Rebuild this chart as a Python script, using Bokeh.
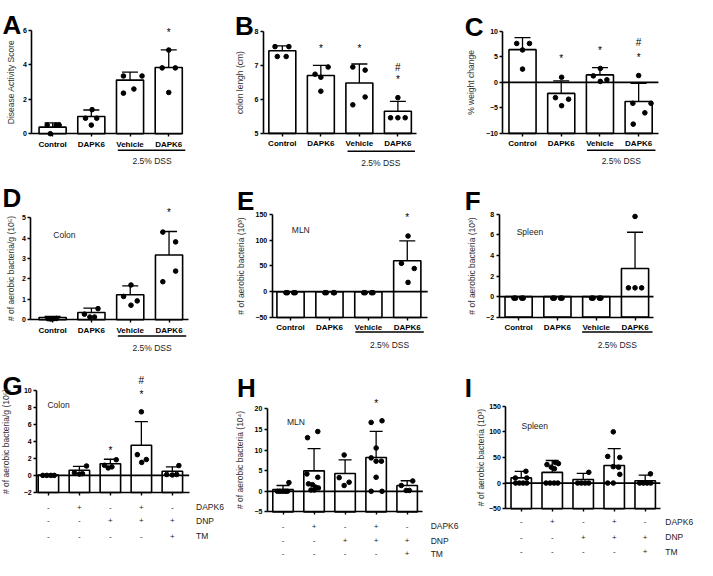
from bokeh.plotting import figure
from bokeh.models import ColumnDataSource, LinearAxis, FixedTicker, Range1d, Whisker, TeeHead
from bokeh.layouts import column, row
from bokeh.core.properties import value
from bokeh.embed import file_html
from bokeh.resources import INLINE

FONT = "Liberation Sans"

# ---------------- data ----------------
DSS_LABEL = "2.5% DSS"
TREAT_ROWS = ["DAPK6", "DNP", "TM"]
TREAT_SIGNS = [["-", "+", "-", "+", "-"],
               ["-", "-", "+", "+", "+"],
               ["-", "-", "-", "-", "+"]]

A_groups = ["Control", "DAPK6", "Vehicle", "DAPK6"]
A_yticks = [0, 2, 4, 6]
A_mean = [0.38, 1.0, 3.12, 3.85]
A_sd = [0.25, 0.38, 0.47, 1.03]
A_points = [[0.5, 0.5, 0.5, 0.0], [1.4, 0.9, 0.9, 0.5], [3.36, 3.36, 2.6, 2.36], [4.87, 3.83, 3.83, 2.4]]
A_jitter = [[-0.14, 0.09, 0.17, -0.06], [0.02, -0.15, 0.14, 0.0], [-0.17, 0.31, 0.1, -0.17], [0.0, -0.17, 0.17, 0.0]]
A_marks = [(3, "*", 5.9)]
A_ylabel = "Disease Activity Score"

B_groups = ["Control", "DAPK6", "Vehicle", "DAPK6"]
B_yticks = [5, 6, 7, 8]
B_mean = [7.43, 6.70, 6.48, 5.65]
B_sd = [0.14, 0.30, 0.56, 0.29]
B_points = [[7.55, 7.55, 7.26, 7.26], [6.74, 6.95, 6.65, 6.24], [6.95, 6.86, 6.07, 5.84], [6.05, 5.46, 5.46, 5.46]]
B_jitter = [[-0.19, 0.17, -0.13, 0.1], [-0.15, 0.19, 0.0, 0.0], [-0.17, 0.15, 0.15, -0.17], [0.0, -0.19, 0.0, 0.19]]
B_marks = [(1, "*", 7.5), (2, "*", 7.5), (3, "#", 6.93), (3, "*", 6.57)]
B_ylabel = "colon lengh (cm)"

C_groups = ["Control", "DAPK6", "Vehicle", "DAPK6"]
C_yticks = [-10, -5, 0, 5, 10]
C_mean = [6.41, -2.16, 1.46, -3.75]
C_sd = [2.35, 2.45, 1.43, 3.57]
C_points = [[7.62, 7.62, 6.35, 2.6], [1.0, -3.0, -3.3, -4.57], [2.73, 1.27, 0.5, 0.19], [1.33, -4.1, -4.1, -5.97, -8.19]]
C_jitter = [[-0.15, 0.18, 0.0, 0.0], [0.01, -0.15, 0.19, 0.01], [0.01, -0.17, 0.18, 0.01], [0.0, -0.15, 0.32, 0.16, -0.14]]
C_marks = [(1, "*", 4.6), (2, "*", 6.2), (3, "#", 7.8), (3, "*", 4.95)]
C_ylabel = "% weight change"

D_groups = ["Control", "DAPK6", "Vehicle", "DAPK6"]
D_yticks = [0, 1, 2, 3, 4, 5]
D_mean = [0.11, 0.35, 1.22, 3.17]
D_sd = [0.05, 0.22, 0.44, 1.15]
D_points = [[0.05, 0.03, 0.05, 0.06], [0.54, 0.27, 0.13, 0.13], [1.70, 1.14, 0.92, 0.71], [4.29, 3.81, 2.38, 1.86]]
D_jitter = [[-0.12, -0.05, 0.03, 0.1], [0.17, -0.18, -0.04, 0.08], [0.02, -0.17, 0.18, 0.02], [-0.16, 0.17, 0.17, -0.16]]
D_marks = [(3, "*", 5.24)]
D_ylabel = "# of aerobic bacteria/g (10\u2075)"
D_site = "Colon"

E_groups = ["Control", "DAPK6", "Vehicle", "DAPK6"]
E_yticks = [-50, 0, 50, 100, 150]
E_mean = [0, 0, 0, 60]
E_sd = [0, 0, 0, 38.5]
E_points = [[-2, -2, -2, -2], [-2, -2, -2, -2], [-2, -2, -2, -2], [108, 55, 45, 18]]
E_jitter = [[-0.12, -0.08, 0.08, 0.12], [-0.12, -0.08, 0.1, 0.13], [-0.12, -0.08, 0.08, 0.12], [0.02, -0.15, 0.18, 0.02]]
E_marks = [(3, "*", 144)]
E_ylabel = "# of aerobic bacteria (10\u00b3)"
E_site = "MLN"

F_groups = ["Control", "DAPK6", "Vehicle", "DAPK6"]
F_yticks = [-2, 0, 2, 4, 6, 8]
F_mean = [0, 0, 0, 2.74]
F_sd = [0, 0, 0, 3.52]
F_points = [[-0.15, -0.15, -0.15, -0.15], [-0.15, -0.15, -0.15, -0.15], [-0.15, -0.15, -0.15, -0.15], [7.8, 0.85, 0.85, 0.85]]
F_jitter = [[-0.12, -0.08, 0.08, 0.12], [-0.12, -0.08, 0.08, 0.12], [-0.12, -0.08, 0.08, 0.12], [0.0, -0.17, 0.0, 0.17]]
F_marks = []
F_ylabel = "# of aerobic bacteria (10\u00b3)"
F_site = "Spleen"

G_yticks = [-2, 0, 2, 4, 6, 8, 10]
G_mean = [0.05, 0.61, 1.37, 3.54, 0.49]
G_sd = [0.05, 0.45, 0.52, 2.77, 0.51]
G_points = [[0, 0, 0, 0], [1.1, 0.3, 0.15, 0.2], [1.83, 1.18, 0.87, 1.0], [7.45, 2.43, 1.86, 1.52], [1.15, 0.1, 0.05, 0.1]]
G_jitter = [[-0.18, -0.05, 0.08, 0.19], [0.23, -0.16, 0.0, 0.1], [0.19, -0.19, -0.07, 0.05], [0.0, -0.13, 0.16, 0.01], [0.21, -0.18, 0.0, 0.14]]
G_marks = [(2, "*", 2.97), (3, "*", 9.5), (3, "#", 11.1)]
G_ylabel = "# of aerobic bacteria/g (10\u2075)"
G_site = "Colon"

H_yticks = [-5, 0, 5, 10, 15, 20]
H_mean = [0.4, 4.95, 4.32, 8.18, 1.4]
H_sd = [1.0, 5.4, 3.3, 6.35, 1.15]
H_points = [[2.1, 0, 0, 0, 0, 0],
            [13.0, 14.5, 4.2, 3.4, 1.8, 1.6, 1.0, 0.8, 0.3, 0.3],
            [8.8, 3.3, 2.2, 1.4],
            [16.7, 17.1, 10.5, 8.1, 7.3, 7.3, 3.4, 0, 0],
            [1.4, 2.5, 0.2, 0.2]]
H_jitter = [[0.19, -0.18, -0.1, -0.01, 0.07, 0.14],
            [-0.21, 0.12, -0.23, 0.12, -0.18, -0.05, 0.05, 0.14, -0.1, 0.01],
            [-0.03, -0.19, 0.13, -0.03],
            [-0.16, 0.19, 0.0, -0.16, 0.0, 0.17, 0.0, -0.16, 0.19],
            [-0.19, 0.18, -0.03, 0.07]]
H_marks = [(3, "*", 21.4)]
H_ylabel = "# of aerobic bacteria (10\u2074)"
H_site = "MLN"

I_yticks = [-50, 0, 50, 100, 150]
I_mean = [10.1, 20.9, 7.0, 34.2, 4.4]
I_sd = [12.6, 23.1, 12.0, 33.2, 11.0]
I_points = [[23, 10, 10, 0, 0, 0, 0],
            [40, 36, 38, 31, 28, 0, 0, 0, 0],
            [21, 0, 0, 0, 0],
            [100, 52, 50, 32, 31, 17, 0, 0],
            [18, 0, 0, 0, 0]]
I_jitter = [[0.15, -0.19, 0.18, -0.18, -0.06, 0.06, 0.18],
            [0.1, -0.17, 0.2, -0.03, 0.07, -0.2, -0.07, 0.06, 0.18],
            [0.18, -0.18, -0.06, 0.06, 0.18],
            [-0.03, -0.21, 0.18, -0.03, 0.14, 0.18, -0.21, -0.03],
            [0.17, -0.18, -0.06, 0.06, 0.18]]
I_marks = []
I_ylabel = "# of aerobic bacteria (10\u00b3)"
I_site = "Spleen"

# ---------------- layout (reference pixel geometry) ----------------
KX = 697 / 713
KY = 560 / 576
ROW_EDGES = [[0, 230, 460, 713], [0, 230, 460, 713], [0, 236, 473, 713]]
ROW_Y = [0, 173, 372, 576]

GEOM = {
    "A": dict(cell=(0, 0), yax=32, xend=185, c0=53.3, step=39.6, ycal=(6, 31, 0, 137), letter=(2, 25),
              bw=0.7, cap=16, lso=4, dss=(120, 189, 154, 155, 165)),
    "B": dict(cell=(1, 0), yax=269, xend=426, c0=288.3, step=39.4, ycal=(8, 31.7, 5, 136.7), letter=(240, 26),
              bw=0.7, cap=16, lso=7, dss=(355, 424, 155, 389, 167)),
    "C": dict(cell=(2, 0), yax=514, xend=673, c0=534, step=39.6, ycal=(10, 31.7, -10, 136.7), letter=(475, 27),
              bw=0.7, cap=16, lso=7, dss=(600, 670, 154, 635, 165)),
    "D": dict(cell=(0, 1), yax=31, xend=192, c0=53.3, step=39.7, ycal=(5, 223.3, 0, 328.3), letter=(2, 203),
              bw=0.7, cap=16, lso=3, dss=(120, 190, 345, 155, 357), site=(54, 241)),
    "E": dict(cell=(1, 1), yax=278, xend=437, c0=296.7, step=39.8, ycal=(150, 220, -50, 326), letter=(242, 206),
              bw=0.7, cap=16, lso=7, dss=(363, 433, 341, 398, 354), site=(298, 236)),
    "F": dict(cell=(2, 1), yax=510, xend=668, c0=530, step=39.7, ycal=(8, 220, -2, 325.7), letter=(475, 206),
              bw=0.7, cap=16, lso=7, dss=(595, 667, 341, 631, 354), site=(528, 238)),
    "G": dict(cell=(0, 2), yax=37, xend=193, c0=49, step=31.7, ycal=(10, 400.7, -2, 506), letter=(2, 396),
              bw=0.66, cap=13, lso=10, rows=(521, 535, 551), rowx=200, site=(48, 416)),
    "H": dict(cell=(1, 2), yax=273, xend=432, c0=289, step=31.75, ycal=(20, 420, -5, 526), letter=(242, 399),
              bw=0.66, cap=13, lso=7, rows=(541, 555.5, 569), rowx=440, site=(293, 434)),
    "I": dict(cell=(2, 2), yax=517, xend=675, c0=532.7, step=31.7, ycal=(150, 417.3, -50, 522.7), letter=(475, 399),
              bw=0.66, cap=13, lso=0, rows=(536, 552, 567), rowx=680, site=(533, 438)),
}


def build(key, groups, yticks, mean, sd, points, jitter, marks, ylabel, site=None):
    g = GEOM[key]
    ci, ri = g["cell"]
    edges = [round(e * KX) for e in ROW_EDGES[ri]]
    edges[-1] = 697
    yedges = [round(e * KY) for e in ROW_Y]
    yedges[-1] = 560
    cl, cr = edges[ci], edges[ci + 1]
    ct, cb = yedges[ri], yedges[ri + 1]
    cw, ch = cr - cl, cb - ct

    X0 = g["c0"] * KX - cl
    SX = g["step"] * KX

    def fx(rx):
        return (rx * KX - cl - X0) / SX

    vt, pt, vb, pb = g["ycal"]
    lt = pt * KY - ct
    lb = pb * KY - ct
    dpp = (vt - vb) / (lb - lt)

    def fy(ry):
        return vt - (ry * KY - ct - lt) * dpp

    p = figure(width=cw, height=ch,
               x_range=Range1d(-X0 / SX, (cw - X0) / SX),
               y_range=Range1d(vt - (ch - lt) * dpp, vt + lt * dpp),
               x_axis_type=None, y_axis_type=None,
               toolbar_location=None, output_backend="svg",
               min_border=0, outline_line_color=None,
               background_fill_color="white", border_fill_color="white")

    n = len(mean)
    xs = list(range(n))
    p.vbar(x=xs, top=mean, bottom=vb, width=g["bw"], fill_color="white",
           line_color="black", line_width=1.6)
    if vb < 0:
        p.segment(x0=[fx(g["yax"])], x1=[fx(g["xend"])], y0=[0], y1=[0],
                  line_color="black", line_width=1.8)

    wx = [i for i in xs if sd[i] > 0]
    src = ColumnDataSource(dict(x=wx, up=[mean[i] + sd[i] for i in wx], lo=[mean[i] - sd[i] for i in wx]))
    w = Whisker(source=src, base="x", upper="up", lower="lo", line_color="black", line_width=1.3,
                upper_head=TeeHead(size=g["cap"], line_width=1.3, line_color="black"),
                lower_head=TeeHead(size=g["cap"], line_width=1.3, line_color="black"))
    p.add_layout(w)

    px, py = [], []
    for i in xs:
        for v, j in zip(points[i], jitter[i]):
            px.append(i + j)
            py.append(v)
    p.scatter(px, py, size=4.6, color="black")

    for i, t, yv in marks:
        p.text(x=[i], y=[yv], text=[t], text_align="center", text_baseline="middle",
               text_font=value(FONT), text_font_size="10px", text_color="black")

    # axes
    xax = LinearAxis(fixed_location=vb, bounds=(fx(g["yax"]), fx(g["xend"])),
                     ticker=FixedTicker(ticks=xs, minor_ticks=[]),
                     major_label_overrides={i: (groups[i] if groups else "") for i in xs},
                     axis_line_width=1.6, major_tick_line_width=1.4,
                     major_tick_out=3, major_tick_in=0, minor_tick_line_color=None,
                     major_label_standoff=3, major_label_text_font=FONT,
                     major_label_text_font_style="bold", major_label_text_font_size="8px",
                     major_label_text_color="black")
    p.add_layout(xax, "below")
    yax = LinearAxis(fixed_location=fx(g["yax"]), bounds=(vb, vt),
                     ticker=FixedTicker(ticks=yticks, minor_ticks=[]),
                     axis_line_width=1.6, major_tick_line_width=1.4,
                     major_tick_out=3, major_tick_in=0, minor_tick_line_color=None,
                     major_label_standoff=2, major_label_text_font=FONT,
                     major_label_text_font_style="bold", major_label_text_font_size="7px",
                     major_label_text_color="black",
                     axis_label=ylabel, axis_label_standoff=g["lso"], axis_label_text_font=FONT,
                     axis_label_text_font_style="normal", axis_label_text_font_size="8.5px",
                     axis_label_text_color="#333")
    p.add_layout(yax, "left")

    # panel letter
    lx, ly = g["letter"]
    p.text(x=[fx(lx)], y=[fy(ly)], text=[key], text_align="left", text_baseline="alphabetic",
           text_font=value(FONT), text_font_style="bold", text_font_size="26px", text_color="black")

    if site:
        sx, sy = g["site"]
        p.text(x=[fx(sx)], y=[fy(sy)], text=[site], text_align="left", text_baseline="middle",
               text_font=value(FONT), text_font_size="8.5px", text_color="#222")

    if "dss" in g:
        x0, x1, yl, xc, yc = g["dss"]
        p.segment(x0=[fx(x0)], x1=[fx(x1)], y0=[fy(yl)], y1=[fy(yl)], line_color="black", line_width=1.5)
        p.text(x=[fx(xc)], y=[fy(yc)], text=[DSS_LABEL], text_align="center", text_baseline="middle",
               text_font=value(FONT), text_font_size="8.5px", text_color="#222")

    if "rows" in g:
        for k, ry in enumerate(g["rows"]):
            p.text(x=xs, y=[fy(ry)] * n, text=TREAT_SIGNS[k], text_align="center", text_baseline="middle",
                   text_font=value(FONT), text_font_size="8px", text_color="#222")
            p.text(x=[fx(g["rowx"])], y=[fy(ry)], text=[TREAT_ROWS[k]], text_align="left",
                   text_baseline="middle", text_font=value(FONT), text_font_size="8.5px", text_color="#222")
    return p


pA = build("A", A_groups, A_yticks, A_mean, A_sd, A_points, A_jitter, A_marks, A_ylabel)
pB = build("B", B_groups, B_yticks, B_mean, B_sd, B_points, B_jitter, B_marks, B_ylabel)
pC = build("C", C_groups, C_yticks, C_mean, C_sd, C_points, C_jitter, C_marks, C_ylabel)
pD = build("D", D_groups, D_yticks, D_mean, D_sd, D_points, D_jitter, D_marks, D_ylabel, D_site)
pE = build("E", E_groups, E_yticks, E_mean, E_sd, E_points, E_jitter, E_marks, E_ylabel, E_site)
pF = build("F", F_groups, F_yticks, F_mean, F_sd, F_points, F_jitter, F_marks, F_ylabel, F_site)
pG = build("G", None, G_yticks, G_mean, G_sd, G_points, G_jitter, G_marks, G_ylabel, G_site)
pH = build("H", None, H_yticks, H_mean, H_sd, H_points, H_jitter, H_marks, H_ylabel, H_site)
pI = build("I", None, I_yticks, I_mean, I_sd, I_points, I_jitter, I_marks, I_ylabel, I_site)

layout = column(row(pA, pB, pC), row(pD, pE, pF), row(pG, pH, pI))
open("out.html", "w").write(file_html(layout, INLINE))
